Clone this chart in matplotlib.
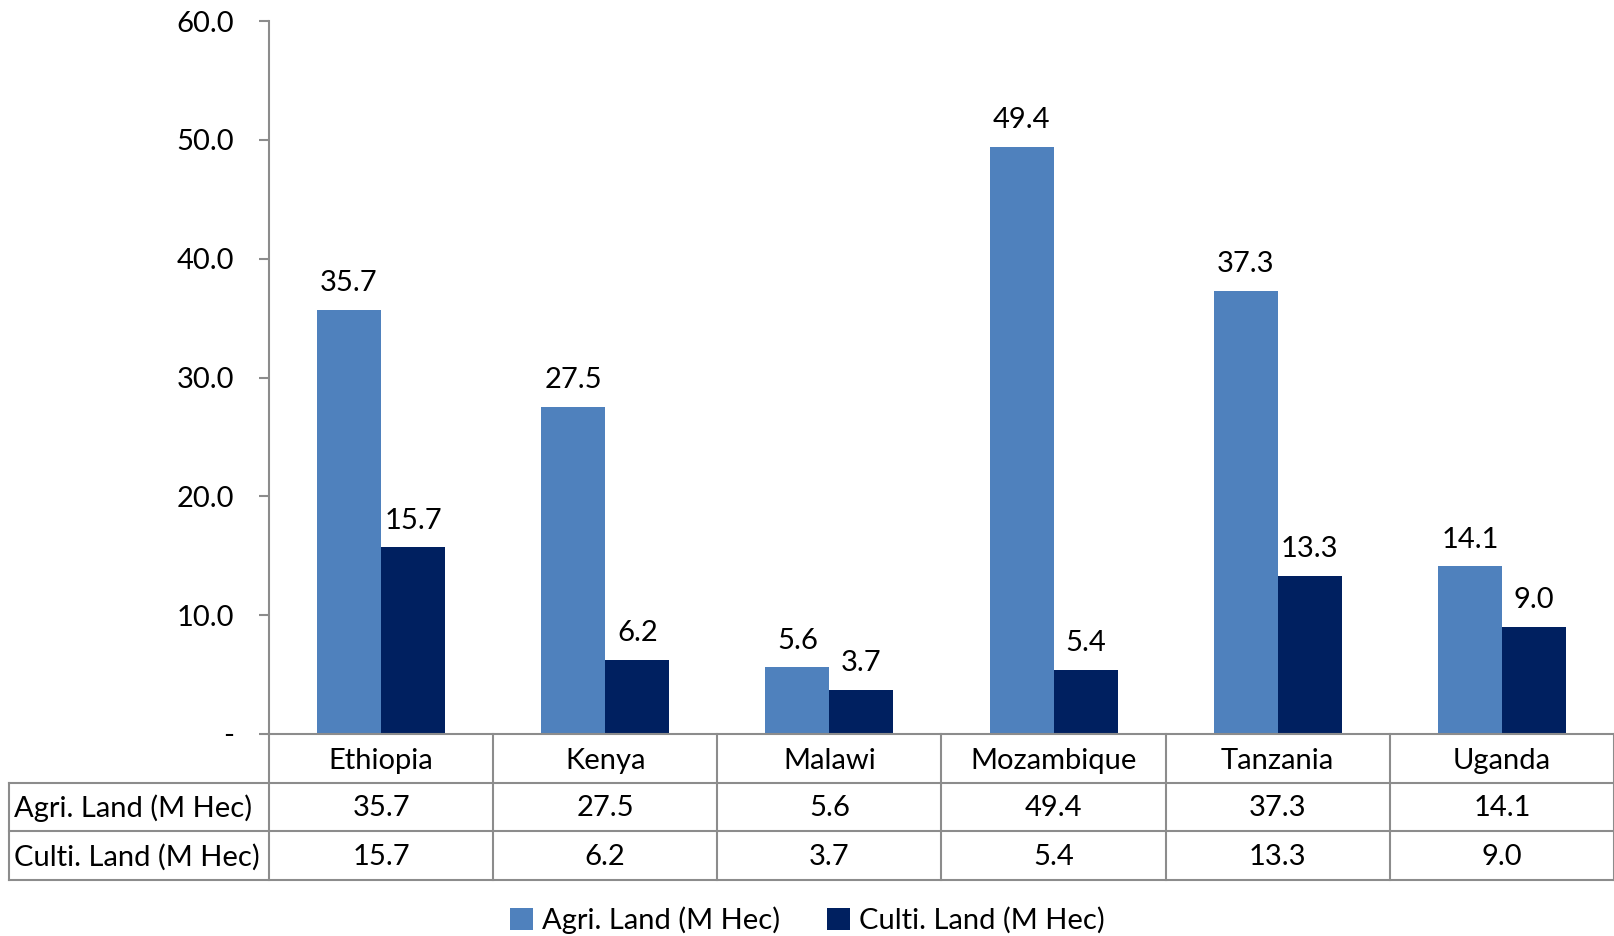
import numpy as np
import matplotlib.pyplot as plt
from matplotlib.transforms import blended_transform_factory
from matplotlib.lines import Line2D

plt.rcParams['font.family'] = ['Lato', 'DejaVu Sans']

countries = ['Ethiopia', 'Kenya', 'Malawi', 'Mozambique', 'Tanzania', 'Uganda']
agri = [35.7, 27.5, 5.6, 49.4, 37.3, 14.1]
culti = [15.7, 6.2, 3.7, 5.4, 13.3, 9.0]
series_names = ['Agri. Land (M Hec)', 'Culti. Land (M Hec)']
yticks = [0, 10, 20, 30, 40, 50, 60]

W, H = 1615, 936
fig = plt.figure(figsize=(W / 100, H / 100), dpi=100)
ax = fig.add_axes([269 / W, 1 - 734 / H, (W - 1 - 269) / W, (734 - 21) / H])

blue = '#4F81BD'
navy = '#002060'
grid = '#8C8C8C'
fs = 21

x = np.arange(len(countries))
w = 1 / 3.5
b1 = ax.bar(x - w / 2, agri, w, color=blue, label=series_names[0])
b2 = ax.bar(x + w / 2, culti, w, color=navy, label=series_names[1])
ax.bar_label(b1, labels=[f'{v:.1f}' for v in agri], padding=10, fontsize=fs)
ax.bar_label(b2, labels=[f'{v:.1f}' for v in culti], padding=10, fontsize=fs)

ax.set_xlim(-0.5, len(countries) - 0.5)
ax.set_ylim(0, 60)
ax.set_yticks(yticks)
ax.set_yticklabels(['-' if v == 0 else f'{v:.1f}' for v in yticks], fontsize=fs)
ax.tick_params(axis='y', direction='out', length=7, width=1.5, color=grid, pad=18)
ax.set_xticks([])
for s in ['top', 'right']:
    ax.spines[s].set_visible(False)
ax.spines['left'].set_color(grid)
ax.spines['left'].set_linewidth(1.5)
ax.spines['bottom'].set_color(grid)
ax.spines['bottom'].set_linewidth(1.5)

# data table under the chart
tr = blended_transform_factory(ax.transData, fig.transFigure)
fy = lambda py: 1 - py / H
rows = [734, 783, 831, 880]
x0 = -0.5
lw = 1.5
for py in rows[1:]:
    fig.add_artist(Line2D([9 / W, 1 - 1 / W], [fy(py)] * 2, color=grid, lw=lw))
for i in range(len(countries) + 1):
    xi = x0 + i
    fig.add_artist(Line2D([xi, xi], [fy(rows[0]), fy(rows[3])], color=grid, lw=lw, transform=tr))
fig.add_artist(Line2D([9 / W, 9 / W], [fy(rows[1]), fy(rows[3])], color=grid, lw=lw))

va = 'center_baseline'
for i, c in enumerate(countries):
    fig.text(i, fy((rows[0] + rows[1]) / 2), c, transform=tr, ha='center', va=va, fontsize=fs)
    fig.text(i, fy((rows[1] + rows[2]) / 2 - 1), f'{agri[i]:.1f}', transform=tr, ha='center', va=va, fontsize=fs)
    fig.text(i, fy((rows[2] + rows[3]) / 2 - 1), f'{culti[i]:.1f}', transform=tr, ha='center', va=va, fontsize=fs)
fig.text(14 / W, fy((rows[1] + rows[2]) / 2 - 1), series_names[0], ha='left', va=va, fontsize=fs)
fig.text(14 / W, fy((rows[2] + rows[3]) / 2 - 1), series_names[1], ha='left', va=va, fontsize=fs)

fig.legend(handles=[b1, b2], loc='center', bbox_to_anchor=(0.5, fy(920)), ncol=2,
           frameon=False, fontsize=fs, handlelength=0.8, handleheight=0.8,
           handletextpad=0.3, columnspacing=1.6)

fig.savefig('out.png', dpi=100)
